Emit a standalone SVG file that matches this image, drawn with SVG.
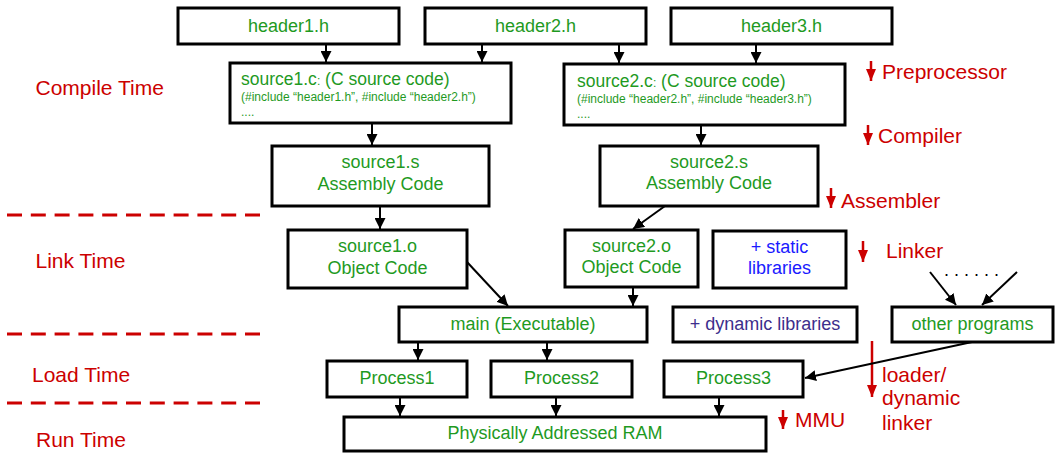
<svg xmlns="http://www.w3.org/2000/svg" width="1057" height="453" viewBox="0 0 1057 453">
<style>
.box{fill:#fff;stroke:#000;stroke-width:3}
text{font-family:"Liberation Sans",Arial,sans-serif}
.g{fill:#1f9a1f;font-size:18px}
.gc{text-anchor:middle}
.r{fill:#cc0000;font-size:21px}
.c{stroke:#000;stroke-width:2;fill:none;marker-end:url(#ah)}
.rc{stroke:#cc0000;stroke-width:2.5;fill:none;marker-end:url(#rh)}
.dash{stroke:#cc0000;stroke-width:3;stroke-dasharray:15 8.8;fill:none}
</style>
<defs>
<marker id="ah" markerUnits="userSpaceOnUse" markerWidth="11" markerHeight="11" refX="11" refY="5.5" orient="auto"><path d="M0,0 L11,5.5 L0,11 z" fill="#000"/></marker>
<marker id="rh" markerUnits="userSpaceOnUse" markerWidth="12" markerHeight="10" refX="12" refY="5" orient="auto"><path d="M0,0 L12,5 L0,10 z" fill="#cc0000"/></marker>
</defs>
<rect width="1057" height="453" fill="#fff"/>

<g id="labels">
<text class="r" x="35.5" y="95">Compile Time</text>
<text class="r" x="35.5" y="268">Link Time</text>
<text class="r" x="32" y="382">Load Time</text>
<text class="r" x="36" y="447">Run Time</text>
<path class="dash" d="M7,215 H260 M7,334 H260 M7,403 H260"/>
<line class="rc" x1="871" y1="61" x2="871" y2="81"/>
<text class="r" x="882" y="79">Preprocessor</text>
<line class="rc" x1="868" y1="125" x2="868" y2="145"/>
<text class="r" x="878" y="143">Compiler</text>
<line class="rc" x1="831" y1="188" x2="831" y2="208"/>
<text class="r" x="841" y="208">Assembler</text>
<line class="rc" x1="863" y1="241" x2="863" y2="262"/>
<text class="r" x="886" y="258">Linker</text>
<line class="rc" x1="872" y1="341" x2="872" y2="397"/>
<text class="r" x="882" y="382">loader/</text>
<text class="r" x="882" y="405">dynamic</text>
<text class="r" x="882" y="430">linker</text>
<line class="rc" x1="783" y1="410" x2="783" y2="429"/>
<text class="r" x="795" y="427">MMU</text>
</g>

<g id="connectors">
<line class="c" x1="326" y1="44" x2="326" y2="62"/>
<line class="c" x1="482" y1="44" x2="482" y2="62"/>
<line class="c" x1="619" y1="44" x2="619" y2="63"/>
<line class="c" x1="756" y1="44" x2="756" y2="63"/>
<line class="c" x1="372" y1="123" x2="372" y2="145"/>
<line class="c" x1="701" y1="125" x2="701" y2="145"/>
<line class="c" x1="380" y1="206" x2="380" y2="229"/>
<line class="c" x1="665" y1="206" x2="633" y2="229"/>
<line class="c" x1="467" y1="262" x2="508" y2="306"/>
<line class="c" x1="633" y1="287" x2="633" y2="306"/>
<line class="c" x1="418" y1="342" x2="418" y2="360"/>
<line class="c" x1="547" y1="342" x2="547" y2="360"/>
<line class="c" x1="400" y1="397" x2="400" y2="416"/>
<line class="c" x1="556" y1="397" x2="556" y2="416"/>
<line class="c" x1="719" y1="397" x2="719" y2="416"/>
<line class="c" x1="972" y1="342" x2="805" y2="378"/>
<line class="c" x1="930" y1="272" x2="956" y2="305"/>
<line class="c" x1="1017" y1="272" x2="982" y2="305"/>
<text x="944" y="276" font-size="18" fill="#000">. . . . . .</text>
</g>

<g id="header1"><rect class="box" x="178" y="8" width="221" height="36"/><text class="g gc" x="288.5" y="32">header1.h</text></g>
<g id="header2"><rect class="box" x="425" y="8" width="221" height="36"/><text class="g gc" x="535.5" y="32">header2.h</text></g>
<g id="header3"><rect class="box" x="671" y="8" width="221" height="36"/><text class="g gc" x="781.5" y="32">header3.h</text></g>

<g id="source1c"><rect class="box" x="230" y="63" width="281" height="60"/>
<text class="g" x="241" y="85" font-size="17.5" style="font-size:17.5px">source1.c<tspan style="font-size:12px">:</tspan> (C source code)</text>
<text class="g" x="241" y="101" style="font-size:12px">(#include “header1.h”, #include “header2.h”)</text>
<text class="g" x="241" y="116" style="font-size:12px">....</text></g>

<g id="source2c"><rect class="box" x="564" y="64" width="281" height="61"/>
<text class="g" x="577" y="87" style="font-size:17.5px">source2.c<tspan style="font-size:12px">:</tspan> (C source code)</text>
<text class="g" x="577" y="103" style="font-size:12px">(#include “header2.h”, #include “header3.h”)</text>
<text class="g" x="577" y="118" style="font-size:12px">....</text></g>

<g id="source1s"><rect class="box" x="272" y="146" width="217" height="60"/><text class="g gc" x="380.5" y="168">source1.s</text><text class="g gc" x="380.5" y="190">Assembly Code</text></g>
<g id="source2s"><rect class="box" x="600" y="146" width="218" height="60"/><text class="g gc" x="709" y="168">source2.s</text><text class="g gc" x="709" y="189">Assembly Code</text></g>

<g id="source1o"><rect class="box" x="288" y="230" width="179" height="58"/><text class="g gc" x="377.5" y="252">source1.o</text><text class="g gc" x="377.5" y="274">Object Code</text></g>
<g id="source2o"><rect class="box" x="565" y="230" width="133" height="57"/><text class="g gc" x="631.5" y="252">source2.o</text><text class="g gc" x="631.5" y="273">Object Code</text></g>
<g id="static"><rect class="box" x="713" y="231" width="133" height="57"/><text class="g gc" x="779.5" y="253" style="fill:#1a1aff">+ static</text><text class="g gc" x="779.5" y="274" style="fill:#1a1aff">libraries</text></g>

<g id="main"><rect class="box" x="399" y="307" width="248" height="35"/><text class="g gc" x="523" y="330">main (Executable)</text></g>
<g id="dynamic"><rect class="box" x="673" y="307" width="184" height="35"/><text class="g gc" x="765" y="330" style="fill:#3d2e8c">+ dynamic libraries</text></g>
<g id="other"><rect class="box" x="892" y="307" width="161" height="35"/><text class="g gc" x="972.5" y="330">other programs</text></g>

<g id="process1"><rect class="box" x="327" y="361" width="140" height="36"/><text class="g gc" x="397" y="384">Process1</text></g>
<g id="process2"><rect class="box" x="491" y="361" width="141" height="36"/><text class="g gc" x="561.5" y="384">Process2</text></g>
<g id="process3"><rect class="box" x="664" y="361" width="139" height="36"/><text class="g gc" x="733.5" y="384">Process3</text></g>

<g id="ram"><rect class="box" x="344" y="417" width="422" height="34"/><text class="g gc" x="555" y="439">Physically Addressed RAM</text></g>
</svg>
